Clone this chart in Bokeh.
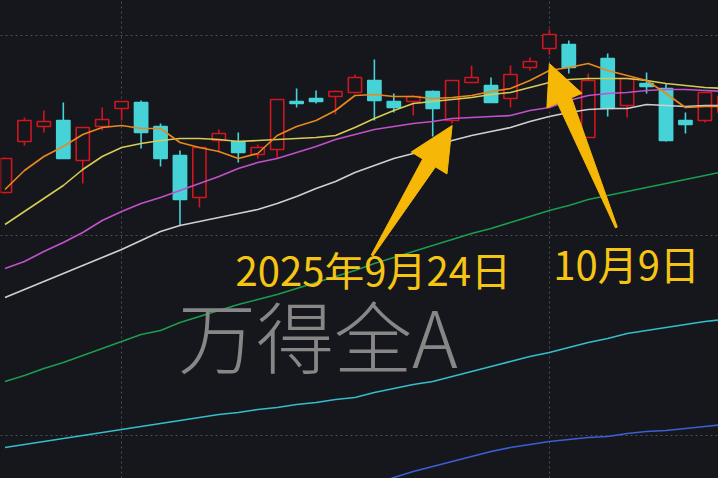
import math
from bokeh.plotting import figure
from bokeh.models import Range1d, FixedTicker, Grid, GlobalInlineStyleSheet
from bokeh.core.properties import value
from bokeh.embed import file_html
from bokeh.resources import INLINE

# ---------------- data (Wind All A, daily, 2025-08-22 .. 2025-10-22) ----------------
dates = ["08-22", "08-25", "08-26", "08-27", "08-28", "08-29",
         "09-01", "09-02", "09-03", "09-04", "09-05",
         "09-08", "09-09", "09-10", "09-11", "09-12",
         "09-15", "09-16", "09-17", "09-18", "09-19",
         "09-22", "09-23", "09-24", "09-25", "09-26",
         "09-29", "09-30", "10-09", "10-10",
         "10-13", "10-14", "10-15", "10-16", "10-17",
         "10-20", "10-21", "10-22"]
opens = [6243, 6294, 6309, 6315, 6275, 6309, 6327, 6333, 6309, 6280, 6238, 6295, 6294, 6281, 6286,
         6334, 6337, 6339, 6343, 6355, 6334, 6334, 6344, 6315, 6353, 6350, 6337, 6368, 6387, 6391,
         6298, 6377, 6330, 6352, 6347, 6315, 6315, 6323]
highs = [6278, 6318, 6325, 6333, 6308, 6328, 6334, 6335, 6312, 6285, 6288, 6306, 6303, 6291, 6336,
         6347, 6345, 6345, 6361, 6376, 6342, 6340, 6345, 6355, 6370, 6358, 6370, 6378, 6406, 6395,
         6362, 6382, 6357, 6363, 6352, 6323, 6343, 6345]
lows = [6242, 6290, 6303, 6277, 6252, 6305, 6315, 6287, 6269, 6210, 6228, 6283, 6273, 6277, 6277,
        6328, 6332, 6321, 6342, 6315, 6323, 6320, 6299, 6312, 6353, 6333, 6328, 6365, 6381, 6362,
        6298, 6319, 6318, 6342, 6294, 6302, 6313, 6320]
closes = [6277, 6315, 6314, 6277, 6308, 6316, 6334, 6303, 6277, 6236, 6288, 6302, 6283, 6288, 6336,
          6332, 6334, 6344, 6358, 6335, 6328, 6339, 6327, 6355, 6358, 6333, 6361, 6374, 6401, 6368,
          6355, 6327, 6357, 6349, 6295, 6311, 6343, 6339]

ma5 = [6246, 6265, 6279, 6289, 6301, 6308, 6310, 6307, 6307, 6293, 6288, 6284, 6277, 6282, 6300,
       6309, 6315, 6325, 6340, 6341, 6339, 6339, 6337, 6338, 6340, 6344, 6347, 6355, 6365, 6368,
       6372, 6365, 6360, 6355, 6342, 6328, 6329, 6329]
ma10 = [6211, 6224, 6237, 6250, 6266, 6279, 6288, 6292, 6295, 6297, 6297, 6296, 6294, 6295, 6296,
        6297, 6298, 6300, 6308, 6317, 6325, 6332, 6334, 6336, 6338, 6341, 6343, 6348, 6353, 6356,
        6357, 6357, 6357, 6355, 6352, 6350, 6348, 6347]
ma20 = [6167, 6174, 6184, 6193, 6203, 6215, 6224, 6232, 6238, 6245, 6252, 6259, 6267, 6273, 6277,
        6283, 6289, 6296, 6301, 6306, 6309, 6312, 6314, 6317, 6318, 6319, 6320, 6325, 6328, 6335,
        6340, 6342, 6343, 6345, 6346, 6346, 6345, 6344]
ma30 = [6138, 6146, 6154, 6162, 6170, 6178, 6186, 6195, 6204, 6210, 6214, 6218, 6222, 6226, 6232,
        6239, 6247, 6254, 6263, 6270, 6277, 6282, 6289, 6295, 6300, 6304, 6308, 6314, 6319, 6323,
        6326, 6327, 6327, 6331, 6330, 6329, 6330, 6330]
ma60 = [6054, 6060, 6067, 6073, 6080, 6087, 6094, 6101, 6105, 6113, 6119, 6125, 6131, 6136, 6141,
        6147, 6153, 6159, 6165, 6172, 6178, 6184, 6190, 6196, 6202, 6207, 6213, 6219, 6225, 6230,
        6236, 6240, 6244, 6248, 6252, 6256, 6260, 6264]
ma120 = [5988, 5991, 5994, 5997, 6000, 6003, 6006, 6009, 6012, 6015, 6018, 6021, 6023, 6026, 6028,
         6031, 6033, 6036, 6038, 6043, 6047, 6051, 6054, 6059, 6064, 6069, 6074, 6079, 6083, 6088,
         6093, 6097, 6102, 6105, 6108, 6111, 6114, 6116]
nan = float("nan")
ma250 = [nan] * 19 + [5951, 5958, 5964, 5969, 5974, 5979, 5984, 5988, 5991, 5994, 5996, 5998,
                      5999, 6002, 6004, 6005, 6007, 6009, 6011]

grid_prices = [6000, 6200, 6400]
grid_days = ["09-01", "10-09"]          # month starts
label_texts = ["2025年9月24日", "10月9日"]
label_days = ["09-24", "10-09"]
watermark = "万得全A"

# ---------------- styles ----------------
BG = "#15171c"
UP = "#d0161e"
DOWN = "#45d3d8"
ARROW = "#f6b707"
LABEL = "#f6c514"
PX = 19.44  # pixels per trading day

n = len(opens)
idx = list(range(n))

p = figure(width=718, height=478, output_backend="svg", toolbar_location=None,
           x_range=Range1d(-0.231, 36.70), y_range=Range1d(5957, 6435),
           x_axis_location=None, y_axis_location=None,
           background_fill_color=BG, border_fill_color=BG,
           min_border=0, outline_line_color=None)
p.grid.visible = False
p.stylesheets = [GlobalInlineStyleSheet(css="body{background:%s;}" % BG)]

p.add_layout(Grid(dimension=0, ticker=FixedTicker(ticks=[dates.index(d) for d in grid_days]),
                  grid_line_color="#4b4e56", grid_line_dash="2 3", grid_line_width=1))
p.add_layout(Grid(dimension=1, ticker=FixedTicker(ticks=grid_prices),
                  grid_line_color="#4b4e56", grid_line_dash="2 3", grid_line_width=1))

# ---------------- candles ----------------
up = [c >= o for o, c in zip(opens, closes)]
tops = [max(o, c) for o, c in zip(opens, closes)]
bots = [min(o, c) for o, c in zip(opens, closes)]
cols = [UP if u else DOWN for u in up]
fills = [BG if u else DOWN for u in up]

p.segment(x0=idx, y0=tops, x1=idx, y1=highs, line_color=cols, line_width=1.6)
p.segment(x0=idx, y0=bots, x1=idx, y1=lows, line_color=cols, line_width=1.6)
p.vbar(x=idx, width=0.68, top=[max(t, b + 1.5) for t, b in zip(tops, bots)], bottom=bots,
       fill_color=fills, line_color=cols, line_width=1.6)

# ---------------- moving averages ----------------
for series, color, w in [(ma250, "#3c5fd2", 1.6), (ma120, "#35bccd", 1.6), (ma60, "#1a9e4e", 1.5),
                         (ma30, "#cfcfcf", 1.7), (ma20, "#c150c9", 1.7), (ma10, "#d8cb55", 1.6),
                         (ma5, "#e8891e", 1.6)]:
    p.line(idx, series, line_color=color, line_width=w)


# ---------------- arrows ----------------
def arrow(tip_x, tip_y, dx, dy, head_len, head_w, w_head, w_tail):
    tx, ty = tip_x * PX, -tip_y
    ax, ay = tx + dx, ty + dy
    L = math.hypot(tx - ax, ty - ay)
    ux, uy = (tx - ax) / L, (ty - ay) / L
    nx, ny = -uy, ux
    bx, by = tx - head_len * ux, ty - head_len * uy
    pts = [(tx, ty),
           (bx + head_w / 2 * nx, by + head_w / 2 * ny),
           (bx + w_head / 2 * nx, by + w_head / 2 * ny),
           (ax + w_tail / 2 * nx, ay + w_tail / 2 * ny),
           (ax - w_tail / 2 * nx, ay - w_tail / 2 * ny),
           (bx - w_head / 2 * nx, by - w_head / 2 * ny),
           (bx - head_w / 2 * nx, by - head_w / 2 * ny)]
    return [x / PX for x, _ in pts], [-y for _, y in pts]


i1 = dates.index(label_days[0])
i2 = dates.index(label_days[1])
a1 = arrow(i1, lows[i1] - 2, -80, 130, 44, 42, 15, 2)
a2 = arrow(i2, lows[i2] - 9, 67, 164, 40, 38, 15, 2)
p.patches([a1[0], a2[0]], [a1[1], a2[1]], fill_color=ARROW, line_color=ARROW, line_width=1)

# ---------------- texts ----------------
p.text(x=[11.86, 28.2], y=[6167, 6173], text=label_texts,
       text_font=value("Noto Sans CJK SC"), text_font_size="40px", text_color=LABEL,
       text_baseline="middle", text_align="left")
p.text(x=[8.9], y=[6102], text=[watermark],
       text_font=value("Noto Sans CJK SC Light, Noto Sans CJK SC"), text_font_size="78px",
       text_color="#878787", text_baseline="middle", text_align="left")

open("out.html", "w").write(file_html(p, INLINE))
